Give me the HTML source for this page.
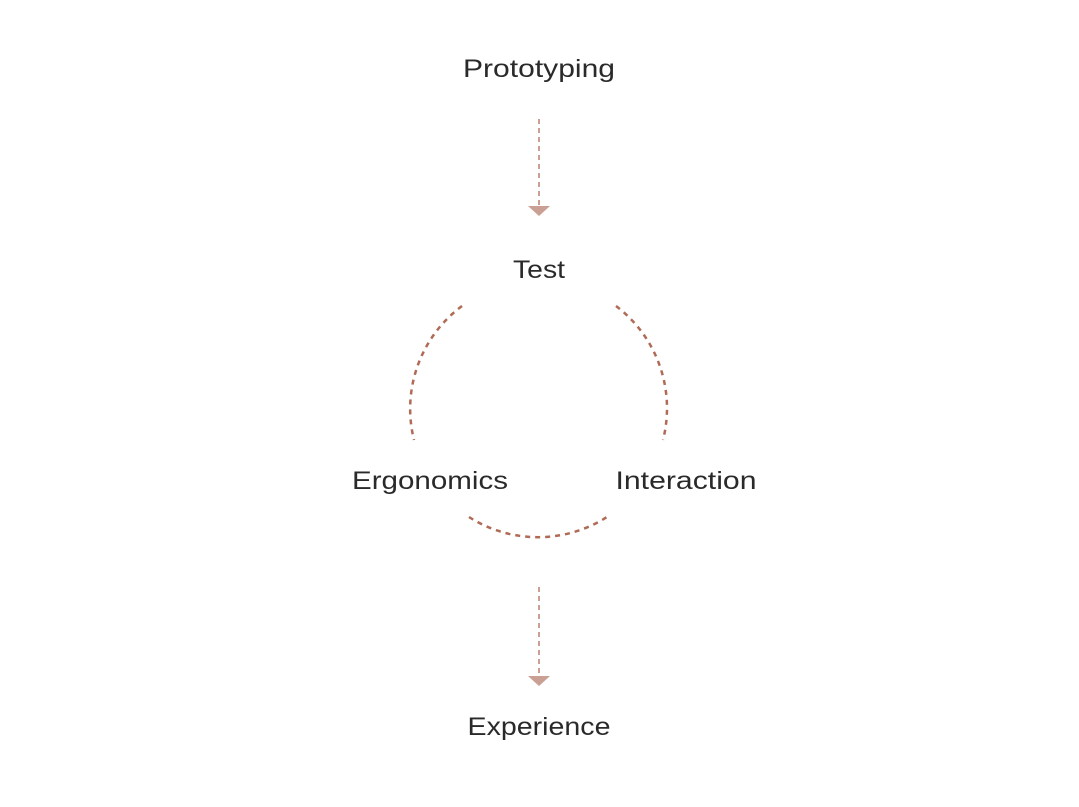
<!DOCTYPE html>
<html><head><style>body{margin:0;background:#fff}</style></head><body>
<svg width="1079" height="802" viewBox="0 0 1079 802" xmlns="http://www.w3.org/2000/svg">
<g font-family="Liberation Sans, sans-serif" font-size="25" fill="#2a2a2a" text-anchor="middle">
<text x="539" y="77" textLength="152" lengthAdjust="spacingAndGlyphs">Prototyping</text>
<text x="539" y="278" textLength="52" lengthAdjust="spacingAndGlyphs">Test</text>
<text x="430" y="489" textLength="156" lengthAdjust="spacingAndGlyphs">Ergonomics</text>
<text x="686" y="489" textLength="141" lengthAdjust="spacingAndGlyphs">Interaction</text>
<text x="539" y="735" textLength="143" lengthAdjust="spacingAndGlyphs">Experience</text>
</g>
<g stroke="#c9a093" stroke-width="2" stroke-dasharray="5,4" fill="none">
<line x1="539" y1="119" x2="539" y2="206"/>
<line x1="539" y1="587" x2="539" y2="676"/>
</g>
<g fill="#c9a093">
<polygon points="528,206 550,206 539,216"/>
<polygon points="528,676 550,676 539,686"/>
</g>
<g stroke="#b06a55" stroke-width="2.5" stroke-dasharray="5,5" fill="none">
<path d="M462,306 A128,128 0 0 0 414,440"/>
<path d="M616,306 A128,128 0 0 1 663,440"/>
<path d="M469,517 A128,128 0 0 0 607,517"/>
</g>
</svg>
</body></html>
